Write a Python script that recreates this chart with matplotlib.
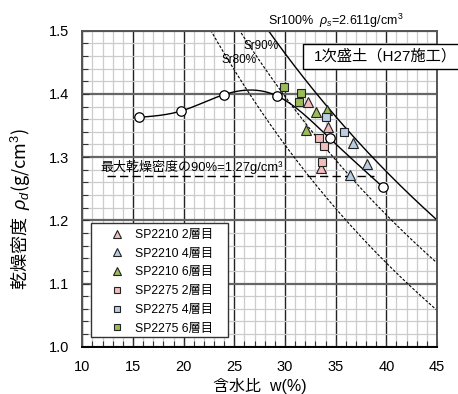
import numpy as np
import matplotlib
matplotlib.use("Agg")
import matplotlib.pyplot as plt
from matplotlib.patches import Rectangle
from matplotlib.ticker import MultipleLocator, FormatStrFormatter

plt.rcParams['font.family'] = ['Liberation Sans', 'Noto Sans CJK JP']
plt.rcParams['mathtext.fontset'] = 'custom'
plt.rcParams['mathtext.rm'] = 'Liberation Sans'
plt.rcParams['mathtext.it'] = 'Liberation Sans:italic'

# Compaction curve (water content %, dry density g/cm3)
comp_w = [15.6, 19.75, 24.0, 29.2, 34.4, 39.7]
comp_rd = [1.363, 1.373, 1.399, 1.397, 1.330, 1.252]

# Field measurements
sp2210_2_w = [32.3, 34.25, 33.6]
sp2210_2_rd = [1.388, 1.347, 1.283]
sp2210_4_w = [36.7, 38.05, 36.4]
sp2210_4_rd = [1.322, 1.289, 1.272]
sp2210_6_w = [33.1, 34.1, 32.05]
sp2210_6_rd = [1.371, 1.374, 1.343]
sp2275_2_w = [33.4, 33.85, 33.65]
sp2275_2_rd = [1.330, 1.317, 1.292]
sp2275_4_w = [34.0, 35.85]
sp2275_4_rd = [1.364, 1.340]
sp2275_6_w = [29.95, 31.55, 31.35]
sp2275_6_rd = [1.411, 1.401, 1.387]

rho_s = 2.611
rho_w = 1.0
sr_levels = [1.0, 0.9, 0.8]
rd90 = 1.27

legend_labels = ["SP2210 2層目", "SP2210 4層目", "SP2210 6層目",
                 "SP2275 2層目", "SP2275 4層目", "SP2275 6層目"]

pink = '#F2BDBD'
blue = '#B9CDE5'
green = '#9BBB59'

W, H = 458, 394


def natural_spline(x, y, xs):
    x = np.asarray(x, float)
    y = np.asarray(y, float)
    n = len(x)
    h = np.diff(x)
    A = np.zeros((n, n))
    b = np.zeros(n)
    A[0, 0] = A[-1, -1] = 1.0
    for i in range(1, n - 1):
        A[i, i - 1] = h[i - 1]
        A[i, i] = 2 * (h[i - 1] + h[i])
        A[i, i + 1] = h[i]
        b[i] = 6 * ((y[i + 1] - y[i]) / h[i] - (y[i] - y[i - 1]) / h[i - 1])
    M = np.linalg.solve(A, b)
    out = np.empty_like(xs)
    for k, xv in enumerate(xs):
        i = min(max(np.searchsorted(x, xv) - 1, 0), n - 2)
        t0 = x[i + 1] - xv
        t1 = xv - x[i]
        out[k] = (M[i] * t0 ** 3 + M[i + 1] * t1 ** 3) / (6 * h[i]) \
            + (y[i] / h[i] - M[i] * h[i] / 6) * t0 \
            + (y[i + 1] / h[i] - M[i + 1] * h[i] / 6) * t1
    return out


def fx(px):
    return px / W


def fy(py):
    return 1 - py / H


fig = plt.figure(figsize=(W / 100, H / 100), dpi=100)
ax = fig.add_axes([0.1797, 0.120, 0.7745, 0.802])
ax.set_xlim(10, 45)
ax.set_ylim(1.0, 1.5)

ax.xaxis.set_major_locator(MultipleLocator(5))
ax.xaxis.set_minor_locator(MultipleLocator(1))
ax.yaxis.set_major_locator(MultipleLocator(0.1))
ax.yaxis.set_minor_locator(MultipleLocator(0.02))
ax.grid(which='minor', color='#cccccc', lw=0.9, zorder=0)
ax.grid(which='major', axis='x', color='#222222', lw=1.0, zorder=0)
ax.grid(which='major', axis='y', color='#666666', lw=1.6, zorder=0)
ax.set_axisbelow(True)
ax.tick_params(which='both', direction='in', length=4, width=0.8,
               colors='#333333', labelcolor='black', labelsize=10.5)
ax.tick_params(which='major', length=5)
ax.tick_params(axis='x', pad=9.5)
ax.tick_params(axis='y', pad=9.5)
ax.yaxis.set_major_formatter(FormatStrFormatter('%.1f'))
for s in ax.spines.values():
    s.set_color('#555555')
    s.set_linewidth(1.4)
ax.spines['bottom'].set_color('black')

# Saturation curves
w = np.linspace(10, 45, 400)
for sr in sr_levels:
    rd = rho_s / (1 + (w / 100) * rho_s / (sr * rho_w))
    if sr == 1.0:
        ax.plot(w, rd, color='black', lw=1.0, zorder=2)
    else:
        ax.plot(w, rd, color='black', lw=0.8, ls=(0, (2.5, 1.5)), zorder=2)

fig.text(fx(261), fy(46), "Sr90%", fontsize=8.5, ha='center', va='center')
fig.text(fx(239), fy(60), "Sr80%", fontsize=8.5, ha='center', va='center')

# Compaction curve
ws = np.linspace(comp_w[0], comp_w[-1], 300)
ax.plot(ws, natural_spline(comp_w, comp_rd, ws), color='black', lw=1.0, zorder=3)
ax.plot(comp_w, comp_rd, 'o', ms=6.8, mfc='white', mec='black', mew=0.9, zorder=4)

# 90% of maximum dry density
ax.plot([12.4, 38.8], [rd90, rd90], color='black', lw=1.0, ls=(0, (6, 3)), zorder=3)
ax.text(11.75, rd90 + 0.004, "最大乾燥密度の90%=" + f"{rd90:.2f}" + "g/cm³",
        fontsize=9.4, ha='left', va='bottom', zorder=5)

tri = dict(ms=6.8, mec='#222222', mew=0.8, ls='none', zorder=5)
sq = dict(ms=6.2, mec='#222222', mew=0.8, ls='none', zorder=5)
ax.plot(sp2210_2_w, sp2210_2_rd, '^', mfc=pink, label=legend_labels[0], **tri)
ax.plot(sp2210_4_w, sp2210_4_rd, '^', mfc=blue, label=legend_labels[1], **tri)
ax.plot(sp2210_6_w, sp2210_6_rd, '^', mfc=green, label=legend_labels[2], **tri)
ax.plot(sp2275_2_w, sp2275_2_rd, 's', mfc=pink, label=legend_labels[3], **sq)
ax.plot(sp2275_4_w, sp2275_4_rd, 's', mfc=blue, label=legend_labels[4], **sq)
ax.plot(sp2275_6_w, sp2275_6_rd, 's', mfc=green, label=legend_labels[5], **sq)

# Legend panel
x0 = (91 - 82.3) / 354.7
x1 = (228 - 82.3) / 354.7
y0 = (346.7 - 337) / 316
y1 = (346.7 - 223) / 316
ax.add_patch(Rectangle((x0, y0), x1 - x0, y1 - y0, transform=ax.transAxes,
                       facecolor='white', edgecolor='#333333', lw=1.0, zorder=6))
leg = ax.legend(loc='upper left', bbox_to_anchor=((111 - 82.3) / 354.7, (346.7 - 229) / 316),
                borderaxespad=0, borderpad=0, fontsize=8.8, frameon=False,
                markerscale=0.8, handlelength=1.0, handletextpad=1.0, labelspacing=0.55)
leg.set_zorder(7)

ax.set_xlabel("含水比  w(%)", fontsize=11.5, labelpad=3)
ax.set_ylabel("乾燥密度  $\\rho_d$(g/cm$^3$)", fontsize=13,
              family='Noto Sans CJK JP')
ax.yaxis.set_label_coords(-0.14, (346.7 - 209) / 316)

fig.text(fx(268), fy(21), "Sr100%  $\\rho_s$=" + f"{rho_s:.3f}" + "g/cm$^3$",
         fontsize=9, ha='left', va='center')

fig.patches.append(Rectangle((fx(303), fy(69)), 0.4, 25 / H,
                             transform=fig.transFigure, facecolor='white',
                             edgecolor='black', lw=1.0, zorder=6))
fig.text(fx(314), fy(56.5), "1次盛土（H27施工）", fontsize=11,
         ha='left', va='center', zorder=7)

fig.savefig("out.png", dpi=100)
